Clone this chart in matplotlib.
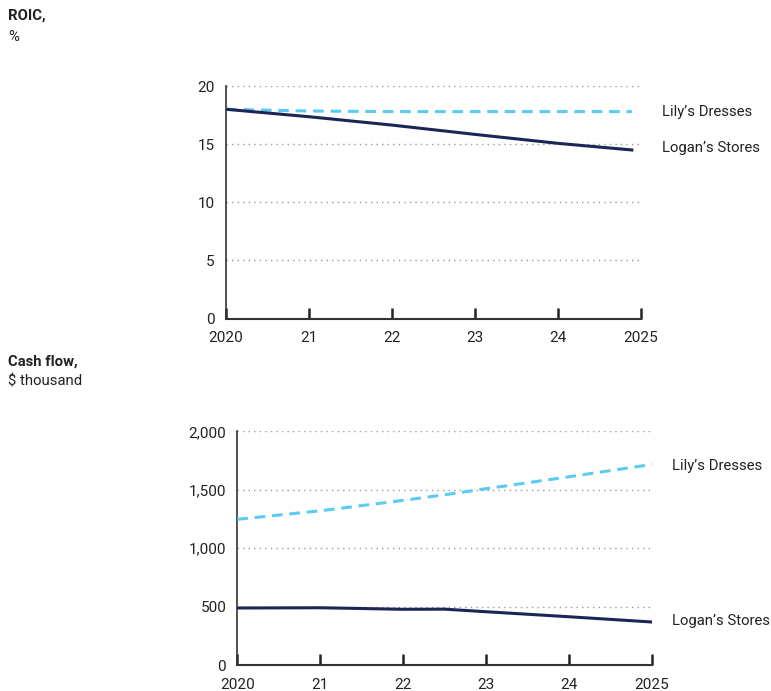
import matplotlib
matplotlib.use("Agg")
import matplotlib.pyplot as plt
from matplotlib.ticker import FuncFormatter

plt.rcParams['font.family'] = ['Roboto', 'DejaVu Sans']

years = [2020, 2021, 2022, 2023, 2024, 2025]
tick_labels = ["2020", "21", "22", "23", "24", "2025"]

# ROIC, %
roic_x = [2020, 2021, 2022, 2023, 2024, 2024.89]
roic_lily = [18.0, 17.85, 17.8, 17.8, 17.8, 17.8]
roic_logan = [18.0, 17.36, 16.64, 15.84, 15.07, 14.5]

# Cash flow, $ thousand
cf_x = [2020, 2021, 2022, 2022.5, 2023, 2024, 2025]
cf_lily = [1247, 1320, 1409, 1457, 1509, 1611, 1717]
cf_logan = [488, 490, 477, 478, 456, 413, 368]

NAVY = "#1b2656"
LIGHT = "#5ccbf4"
GRID = "#9a9a9a"
TXT = "#222222"
TICK_FS = 11
LAB_FS = 10.7

fig = plt.figure(figsize=(7.71, 6.91), dpi=100)


def style(ax, ymax, yticks, fmt):
    ax.set_xlim(2020, 2025)
    ax.set_ylim(0, ymax)
    for s in ["top", "right"]:
        ax.spines[s].set_visible(False)
    ax.spines["left"].set_color("#333333")
    ax.spines["bottom"].set_color("#333333")
    ax.spines["left"].set_linewidth(1.2)
    ax.spines["bottom"].set_linewidth(1.5)
    ax.set_yticks(yticks)
    ax.yaxis.set_major_formatter(FuncFormatter(fmt))
    ax.set_xticks(years)
    ax.set_xticklabels(tick_labels)
    ax.tick_params(axis="y", length=0, labelsize=TICK_FS, colors=TXT, pad=8)
    ax.tick_params(axis="x", direction="in", length=8, width=1.8, color="#222222",
                   labelsize=TICK_FS, labelcolor=TXT, pad=9)
    for t in yticks[1:]:
        ax.axhline(t, color=GRID, linestyle=(0, (1, 3)), linewidth=1.0, zorder=0)


ax1 = fig.add_axes([0.2931, 0.539, 0.5383, 0.3365])
style(ax1, 20, [0, 5, 10, 15, 20], lambda v, p: f"{int(v)}")
ax1.plot(roic_x, roic_lily, color=LIGHT, linestyle=(0, (3.5, 2.2)), linewidth=2.2, zorder=3)
ax1.plot(roic_x, roic_logan, color=NAVY, linewidth=2.2, zorder=4)
fig.text(662 / 771, 1 - 112 / 691, "Lily’s Dresses",
         fontsize=LAB_FS, color=TXT, va="center", ha="left")
fig.text(662 / 771, 1 - 148 / 691, "Logan’s Stores",
         fontsize=LAB_FS, color=TXT, va="center", ha="left")

ax2 = fig.add_axes([0.3078, 0.0376, 0.5379, 0.3382])
style(ax2, 2000, [0, 500, 1000, 1500, 2000], lambda v, p: f"{int(v):,}")
ax2.plot(cf_x, cf_lily, color=LIGHT, linestyle=(0, (3.5, 2.2)), linewidth=2.2, zorder=3)
ax2.plot(cf_x, cf_logan, color=NAVY, linewidth=2.2, zorder=4)
fig.text(672 / 771, 1 - 466 / 691, "Lily’s Dresses",
         fontsize=LAB_FS, color=TXT, va="center", ha="left")
fig.text(672 / 771, 1 - 621 / 691, "Logan’s Stores",
         fontsize=LAB_FS, color=TXT, va="center", ha="left")

fig.text(8 / 771, 1 - 16 / 691, "ROIC,", fontsize=LAB_FS, fontweight="bold", color=TXT,
         va="center", ha="left")
fig.text(8 / 771, 1 - 37 / 691, "%", fontsize=LAB_FS, color=TXT, va="center", ha="left")
fig.text(8 / 771, 1 - 362 / 691, "Cash flow,", fontsize=LAB_FS, fontweight="bold", color=TXT,
         va="center", ha="left")
fig.text(8 / 771, 1 - 382 / 691, "$ thousand", fontsize=LAB_FS, color=TXT, va="center", ha="left")

fig.savefig("out.png", dpi=100, facecolor="white")
